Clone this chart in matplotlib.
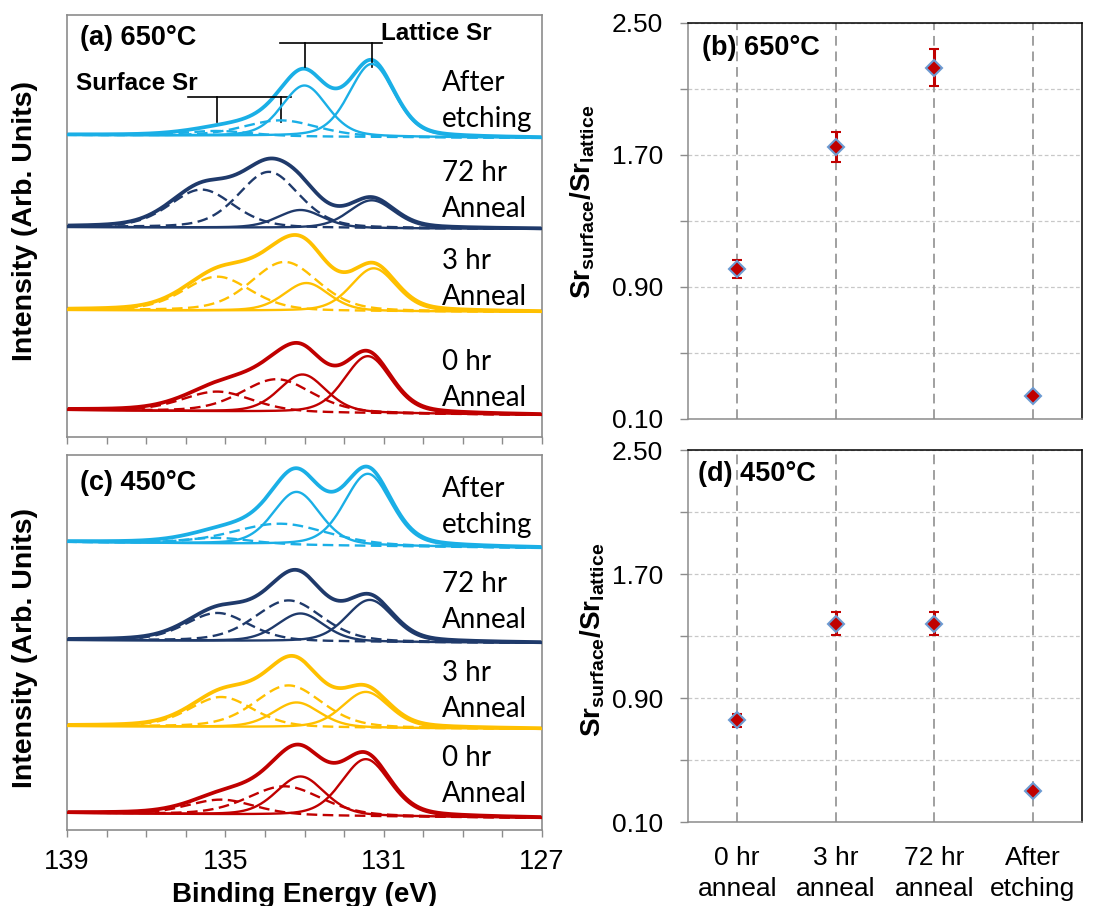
import numpy as np
import matplotlib
matplotlib.use('Agg')
import matplotlib.pyplot as plt

plt.rcParams['font.family'] = ['Liberation Sans', 'DejaVu Sans']
plt.rcParams['mathtext.fontset'] = 'custom'
plt.rcParams['mathtext.rm'] = 'Liberation Sans'
plt.rcParams['mathtext.bf'] = 'Liberation Sans:bold'
plt.rcParams['mathtext.it'] = 'Liberation Sans:italic'

# ---------------- DATA ----------------
# spectra order (bottom -> top): 0 hr, 3 hr, 72 hr, after etching
spec_labels = ['0 hr\nAnneal', '3 hr\nAnneal', '72 hr\nAnneal', 'After\netching']
spec_colors = ['#C00000', '#FFC000', '#1F3A6B', '#1AAFE6']

# (a) 650 C : Sr 3d fit components (centre eV, height arb., FWHM eV) and offsets
a_base_left = [27, 127, 210, 302]
a_base_right = [22, 125, 208, 299]
a_lat1_c = [131.40, 131.25, 131.30, 131.30]
a_lat1_h = [57, 43, 28, 73]
a_lat2_c = [133.05, 132.95, 133.10, 133.00]
a_lat2_h = [38, 28, 18, 51]
a_lat_w = [1.40, 1.35, 1.36, 1.35]
a_sur1_c = [133.70, 133.50, 133.90, 133.60]
a_sur1_h = [33, 49, 56, 16]
a_sur1_w = [2.10, 2.00, 1.80, 2.20]
a_sur2_c = [135.20, 135.20, 135.60, 135.20]
a_sur2_h = [20, 34, 38, 5]
a_sur2_w = [2.10, 2.00, 1.90, 2.00]

# (c) 450 C
c_base_left = [17, 104, 190, 288]
c_base_right = [12, 101, 187, 282]
c_lat1_c = [131.45, 131.45, 131.35, 131.40]
c_lat1_h = [57, 36, 42, 72]
c_lat2_c = [133.10, 133.20, 133.10, 133.20]
c_lat2_h = [39, 25, 28, 53]
c_lat_w = [1.45, 1.40, 1.40, 1.40]
c_sur1_c = [133.50, 133.40, 133.40, 133.60]
c_sur1_h = [29, 42, 41, 21]
c_sur1_w = [2.20, 2.00, 2.00, 2.80]
c_sur2_c = [135.10, 135.10, 135.20, 135.20]
c_sur2_h = [15, 30, 28, 6]
c_sur2_w = [2.00, 1.90, 1.90, 2.00]

# Sr_surface / Sr_lattice ratios
conditions = ['0 hr\nanneal', '3 hr\nanneal', '72 hr\nanneal', 'After\netching']
b_ratio = [1.01, 1.75, 2.23, 0.24]
b_err = [0.055, 0.09, 0.11, 0.02]
d_ratio = [0.755, 1.38, 1.38, 0.30]
d_err = [0.045, 0.075, 0.075, 0.02]

# ---------------- FIGURE ----------------
W, H = 1100, 906
fig = plt.figure(figsize=(W / 100, H / 100), dpi=100)


def box(l, t, r, b):
    return [l / W, 1 - b / H, (r - l) / W, (b - t) / H]


ax_a = fig.add_axes(box(67, 15, 542, 437))
ax_c = fig.add_axes(box(67, 455, 542, 830))
ax_b = fig.add_axes(box(688, 23, 1082, 419))
ax_d = fig.add_axes(box(688, 450, 1082, 822))

E = np.linspace(127, 139, 700)
ETA = 0.3  # Lorentzian fraction of the Gaussian-Lorentzian line shape


def peak(c, h, w):
    s = w / 2.3548
    g = np.exp(-0.5 * ((E - c) / s) ** 2)
    lor = 1.0 / (1.0 + ((E - c) / (w / 2.0)) ** 2)
    return h * ((1 - ETA) * g + ETA * lor)


def draw_spectra(ax, bl, br, l1c, l1h, l2c, l2h, lw_, s1c, s1h, s1w, s2c, s2h, s2w):
    for i in range(4):
        base = bl[i] + (br[i] - bl[i]) * (139 - E) / 12.0
        g1 = peak(l1c[i], l1h[i], lw_[i])
        g2 = peak(l2c[i], l2h[i], lw_[i])
        g3 = peak(s1c[i], s1h[i], s1w[i])
        g4 = peak(s2c[i], s2h[i], s2w[i])
        col = spec_colors[i]
        ax.plot(E, base + g1 + g2 + g3 + g4, color=col, lw=2.7, zorder=2)
        ax.plot(E, base + g1, color=col, lw=1.7, zorder=3)
        ax.plot(E, base + g2, color=col, lw=1.7, zorder=3)
        ax.plot(E, base + g3, color=col, lw=1.7, dashes=(4.5, 2.3), zorder=3)
        ax.plot(E, base + g4, color=col, lw=1.7, dashes=(4.5, 2.3), zorder=3)


draw_spectra(ax_a, a_base_left, a_base_right, a_lat1_c, a_lat1_h, a_lat2_c, a_lat2_h,
             a_lat_w, a_sur1_c, a_sur1_h, a_sur1_w, a_sur2_c, a_sur2_h, a_sur2_w)
draw_spectra(ax_c, c_base_left, c_base_right, c_lat1_c, c_lat1_h, c_lat2_c, c_lat2_h,
             c_lat_w, c_sur1_c, c_sur1_h, c_sur1_w, c_sur2_c, c_sur2_h, c_sur2_w)

for ax, top in ((ax_a, 422), (ax_c, 375)):
    ax.set_xlim(139, 127)
    ax.set_ylim(0, top)
    ax.set_yticks([])
    ax.set_xticks([139, 135, 131, 127])
    ax.set_xticks(np.arange(127, 140, 1), minor=True)
    ax.tick_params(axis='x', which='both', direction='out', length=5, width=1,
                   color='#8C8C8C', labelsize=19.5, pad=9)
    for sp in ax.spines.values():
        sp.set_color('#8C8C8C')
        sp.set_linewidth(1.2)
ax_a.set_xticklabels([])

# bracket annotations in (a)
k = 3
ax_a.plot([133.62, 131.05], [394, 394], color='black', lw=1.2)
ax_a.plot([a_lat2_c[k], a_lat2_c[k]], [394, 370], color='black', lw=1.2)
ax_a.plot([a_lat1_c[k], a_lat1_c[k]], [394, 370], color='black', lw=1.2)
ax_a.plot([135.94, 133.35], [340, 340], color='black', lw=1.2)
ax_a.plot([a_sur2_c[k], a_sur2_c[k]], [340, 315], color='black', lw=1.2)
ax_a.plot([a_sur1_c[k], a_sur1_c[k]], [340, 315], color='black', lw=1.2)


def ftext(px, py, s, **kw):
    fig.text(px / W, 1 - py / H, s, **kw)


ftext(381, 33, 'Lattice Sr', fontsize=17.5, fontweight='bold', ha='left', va='center')
ftext(76, 84, 'Surface Sr', fontsize=17.5, fontweight='bold', ha='left', va='center')
ftext(80, 38, '(a) 650\u00b0C', fontsize=19.5, fontweight='bold', ha='left', va='center')
ftext(80, 483, '(c) 450\u00b0C', fontsize=19.5, fontweight='bold', ha='left', va='center')

lab_a_y = [380, 279, 191, 101]
lab_c_y = [776, 691, 602, 507]
for i in range(4):
    ftext(442, lab_a_y[i], spec_labels[i], fontsize=20, family=['Lato', 'DejaVu Sans'],
          ha='left', va='center', linespacing=1.5)
    ftext(442, lab_c_y[i], spec_labels[i], fontsize=20, family=['Lato', 'DejaVu Sans'],
          ha='left', va='center', linespacing=1.5)

ftext(25, 221, 'Intensity (Arb. Units)', rotation=90, fontsize=20.5, fontweight='bold',
      ha='center', va='center')
ftext(25, 648, 'Intensity (Arb. Units)', rotation=90, fontsize=20.5, fontweight='bold',
      ha='center', va='center')
ftext(305, 902, 'Binding Energy (eV)', fontsize=20, fontweight='bold', ha='center',
      va='baseline')

# ---- ratio panels ----
xpos = np.arange(len(conditions))
for ax, ratio, err in ((ax_b, b_ratio, b_err), (ax_d, d_ratio, d_err)):
    ax.set_xlim(-0.5, 3.5)
    ax.set_ylim(0.1, 2.5)
    ax.set_yticks([0.1, 0.9, 1.7, 2.5])
    ax.set_yticklabels(['0.10', '0.90', '1.70', '2.50'])
    ax.set_yticks([0.5, 1.3, 2.1], minor=True)
    ax.yaxis.grid(True, which='both', color='#C8C8C8', lw=0.9, dashes=(3, 2))
    for xv in xpos:
        ax.axvline(xv, color='#A0A0A0', lw=1.4, dashes=(5, 3), zorder=1)
    ax.set_axisbelow(True)
    ax.tick_params(axis='y', which='both', direction='out', length=6, width=1,
                   color='#8C8C8C', labelsize=19, pad=12)
    ax.errorbar(xpos, ratio, yerr=err, fmt='D', ms=8, mfc='#C00000', mec='#6C9BD2',
                mew=1.5, ecolor='#C00000', elinewidth=2.2, capsize=3.5, capthick=3,
                zorder=4)
    ax.spines['left'].set_color('#8C8C8C')
    ax.spines['bottom'].set_color('#8C8C8C')
    ax.spines['top'].set_color('black')
    ax.spines['right'].set_color('black')
    for sp in ax.spines.values():
        sp.set_linewidth(1.1)

ax_b.set_xticks(xpos)
ax_b.set_xticklabels([])
ax_b.tick_params(axis='x', length=0)
ax_d.set_xticks(xpos)
ax_d.set_xticklabels(conditions, fontsize=19, linespacing=1.4)
ax_d.tick_params(axis='x', length=0, pad=17)

ftext(702, 48, '(b) 650\u00b0C', fontsize=19.5, fontweight='bold', ha='left', va='center')
ftext(698, 474, '(d) 450\u00b0C', fontsize=19.5, fontweight='bold', ha='left', va='center')

ylab = r'$\mathbf{Sr}_{\mathbf{surface}}\mathbf{/Sr}_{\mathbf{lattice}}$'
ftext(583, 202, ylab, rotation=90, fontsize=20, ha='center', va='center')
ftext(593, 640, ylab, rotation=90, fontsize=20, ha='center', va='center')

fig.savefig('out.png', dpi=100)
